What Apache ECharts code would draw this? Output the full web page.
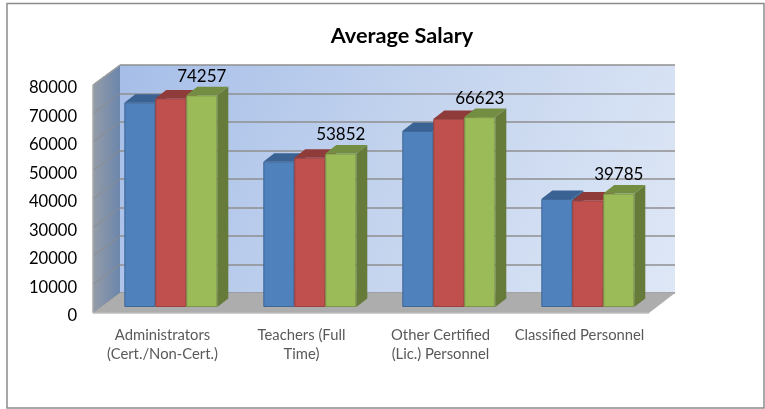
<!DOCTYPE html>
<html>
<head>
<meta charset="utf-8">
<style>html,body{margin:0;padding:0;background:#fff}#c{width:765px;height:409px}</style>
<script src="https://cdn.jsdelivr.net/npm/echarts@6/dist/echarts.min.js"></script>
</head>
<body>
<div id="c"></div>
<script>
const categories = ['Administrators\n(Cert./Non-Cert.)', 'Teachers (Full\nTime)', 'Other Certified\n(Lic.) Personnel', 'Classified Personnel'];
const blueValues = [71700, 51000, 61750, 37900];
const redValues = [73200, 52400, 66000, 37400];
const greenValues = [74257, 53852, 66623, 39785];
const yTicks = [0, 10000, 20000, 30000, 40000, 50000, 60000, 70000, 80000];
const title = 'Average Salary';

const font = 'Lato, Carlito, Calibri, sans-serif';
const DX = 11, DY = 8.5, BAR_W = 31;

const chart = echarts.init(document.getElementById('c'), null, {renderer: 'canvas'});

function polyShape(points, fill, extra) {
  return Object.assign({type: 'polygon', shape: {points}, style: {fill: fill}}, extra || {});
}

// Bars live on the middle grid; the box walls are built from the front and back grids
function barSeries(name, values, offsetIndex, colors, showLabel) {
  return {
    type: 'custom', name, xAxisIndex: 1, yAxisIndex: 1, z: 5 + offsetIndex,
    coordinateSystem: 'cartesian2d', clip: false,
    data: values.map((v, i) => [i, v]),
    renderItem(params, api) {
      const i = api.value(0), v = api.value(1);
      const c = api.coord([i, v]), base = api.coord([i, 0]);
      const x = c[0] - BAR_W * 1.5 + offsetIndex * BAR_W, y = c[1], b = base[1], w = BAR_W;
      const kids = [
        polyShape([[x + w, y], [x + w + DX, y - DY], [x + w + DX, b - DY], [x + w, b]], colors.side),
        polyShape([[x, y], [x + DX, y - DY], [x + w + DX, y - DY], [x + w, y]], colors.top),
        {type: 'rect', shape: {x: x + 0.5, y: y + 0.5, width: w - 1, height: b - y - 1},
          style: {fill: colors.face, stroke: colors.edge, lineWidth: 1}}
      ];
      if (showLabel) {
        kids.push({type: 'text', style: {text: String(v), x: x + w / 2, y: y - 19, align: 'center',
          verticalAlign: 'middle', fill: '#000', font: '17px ' + font}});
      }
      return {type: 'group', children: kids};
    }
  };
}

const option = {
  animation: false,
  backgroundColor: '#fff',
  title: {text: title, left: 397, top: 20, textAlign: 'center',
    textStyle: {fontFamily: font, fontSize: 21.7, fontWeight: 'bold', color: '#000'}},
  graphic: [{type: 'rect', z: -10, shape: {x: 7, y: 3.5, width: 757, height: 404.5},
    style: {fill: '#fff', stroke: '#8c8c8c', lineWidth: 1.5}}],
  grid: [
    {left: 93, width: 556, top: 85, height: 228, z: 1},
    {left: 101.3, width: 556, top: 79, height: 228, z: 3},
    {left: 120, width: 555, top: 65, height: 228, z: 0, show: true, borderWidth: 0,
      backgroundColor: new echarts.graphic.LinearGradient(0, 0, 1, 1, [
        {offset: 0, color: '#A6BEE8'}, {offset: 0.5, color: '#C4D4EE'}, {offset: 1, color: '#DEE7F6'}
      ])},
    {left: 93, width: 556, top: 88, height: 228, z: 1}
  ],
  xAxis: [
    {gridIndex: 0, type: 'category', data: categories, axisLine: {show: false}, axisTick: {show: false},
      axisLabel: {interval: 0, margin: 13, fontFamily: font, fontSize: 14.8, lineHeight: 19, color: '#595959'}},
    {gridIndex: 1, type: 'category', data: categories, show: false},
    {gridIndex: 2, type: 'category', data: categories, show: false},
    {gridIndex: 3, type: 'category', data: categories, show: false}
  ],
  yAxis: [
    {gridIndex: 0, type: 'value', min: 0, max: 80000, interval: 10000, show: false},
    {gridIndex: 1, type: 'value', min: 0, max: 80000, interval: 10000, show: false},
    {gridIndex: 2, type: 'value', min: 0, max: 80000, interval: 10000, axisLine: {show: false},
      axisTick: {show: false}, axisLabel: {show: false},
      splitLine: {show: true, lineStyle: {color: '#8f8f8f', width: 1.5}}},
    {gridIndex: 3, type: 'value', min: 0, max: 80000, interval: 10000, splitLine: {show: false},
      axisLine: {show: false}, axisTick: {show: false},
      axisLabel: {margin: 16, fontFamily: font, fontSize: 16.6, color: '#000', formatter: v => String(v)}}
  ],
  series: [
    { // left wall
      type: 'custom', xAxisIndex: 0, yAxisIndex: 0, z: 2, clip: false,
      data: [[0, 0]],
      renderItem(params, api) {
        const lo = api.coord([0, 0]), hi = api.coord([0, 80000]);
        const band = api.size([1, 0])[0];
        const x0 = lo[0] - band / 2;
        const pts = [[x0, hi[1]], [x0 + 27, hi[1] - 20], [x0 + 27, lo[1] - 20], [x0, lo[1]]];
        const kids = [polyShape(pts, new echarts.graphic.LinearGradient(0, 0, 1, 0, [
          {offset: 0, color: '#949CA8'}, {offset: 1, color: '#6C86AC'}]),
          {})];
        yTicks.forEach(t => {
          const y = api.coord([0, t])[1];
          kids.push({type: 'line', shape: {x1: x0, y1: y, x2: x0 + 27, y2: y - 20},
            style: {stroke: '#8c8c8c', lineWidth: 1}});
        });
        kids.push({type: 'line', shape: {x1: x0, y1: hi[1], x2: x0 + 27, y2: hi[1] - 20},
          style: {stroke: '#a0a0a0', lineWidth: 1.5}});
        kids.push({type: 'line', shape: {x1: x0, y1: hi[1], x2: x0, y2: lo[1]},
          style: {stroke: '#a8a8a8', lineWidth: 1.5}});
        return {type: 'group', children: kids};
      }
    },
    { // floor
      type: 'custom', xAxisIndex: 0, yAxisIndex: 0, z: 3, clip: false,
      data: [[0, 0]],
      renderItem(params, api) {
        const lo = api.coord([0, 0]);
        const band = api.size([1, 0])[0];
        const x0 = lo[0] - band / 2, x1 = x0 + band * categories.length;
        return {type: 'group', children: [
          polyShape([[x0, lo[1]], [x0 + 27, lo[1] - 20], [x1 + 26, lo[1] - 20], [x1, lo[1]]], '#ADADAD'),
          {type: 'line', shape: {x1: x0, y1: lo[1], x2: x1, y2: lo[1]}, style: {stroke: '#BDBDBD', lineWidth: 1.5}}
        ]};
      }
    },
    barSeries('Blue', blueValues, 0, {face: '#4F81BD', edge: '#3F6797', side: '#385D8A', top: '#3A6292'}, false),
    barSeries('Red', redValues, 1, {face: '#C0504D', edge: '#9A403E', side: '#8C3A38', top: '#8E3B39'}, false),
    barSeries('Green', greenValues, 2, {face: '#9BBB59', edge: '#7C9647', side: '#667A3A', top: '#738E42'}, true)
  ]
};
chart.setOption(option);
</script>
</body>
</html>
